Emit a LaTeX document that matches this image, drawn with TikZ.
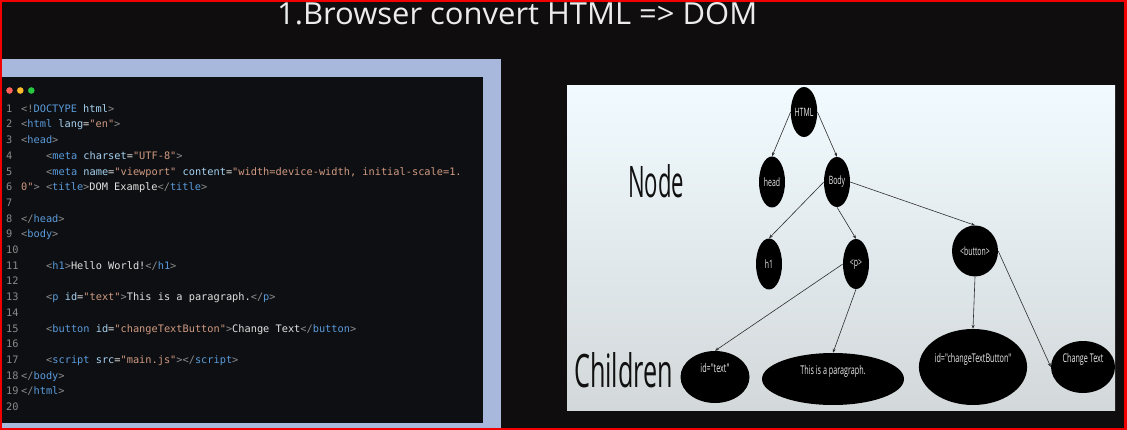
\documentclass[tikz,border=0pt]{standalone}
\usepackage{fontspec}
\usepackage{graphicx}
\usetikzlibrary{shapes.geometric,arrows.meta}

\newfontfamily\codefont{DejaVu Sans Mono}
\newfontfamily\domfont{Open Sans}[FakeStretch=0.6]
\newfontfamily\headfont{Open Sans}

\definecolor{pagebg}{HTML}{0F0D0D}
\definecolor{framered}{HTML}{F20000}
\definecolor{framebl}{HTML}{A8B8DC}
\definecolor{editorbg}{HTML}{0E0F12}
\definecolor{titlec}{HTML}{ECECEC}
\definecolor{cnum}{HTML}{8A8A8A}
\definecolor{cbr}{HTML}{8C8C8C}
\definecolor{ctag}{HTML}{5A9BDB}
\definecolor{catt}{HTML}{A6D2F2}
\definecolor{cstr}{HTML}{D09A82}
\definecolor{ctxt}{HTML}{E2E2E2}
\definecolor{dotr}{HTML}{FF6159}
\definecolor{doty}{HTML}{FDBB2E}
\definecolor{dotg}{HTML}{27C840}
\definecolor{panelt}{HTML}{F1FBFF}
\definecolor{panelm}{HTML}{EDF7FB}
\definecolor{panelb}{HTML}{D3D8DA}
\definecolor{edgec}{HTML}{2E2E2E}
\definecolor{labc}{HTML}{111111}

% syntax colouring helpers for the code listing
\newcommand\Br[1]{\textcolor{cbr}{#1}}
\newcommand\Tg[1]{\textcolor{ctag}{#1}}
\newcommand\At[1]{\textcolor{catt}{#1}}
\newcommand\St[1]{\textcolor{cstr}{#1}}
% lifts a label inside its ellipse without moving the ellipse
\newcommand\up[1]{\raisebox{6pt}[3pt][0pt]{#1}}

\begin{document}
\begin{tikzpicture}[x=1pt,y=-1pt,
  lnum/.style={anchor=base west, inner sep=0pt, text=cnum,
    font=\codefont\fontsize{10.3}{12}\selectfont},
  code/.style={anchor=base west, inner sep=0pt, text=ctxt,
    font=\codefont\fontsize{10.3}{12}\selectfont},
  dom/.style={ellipse, fill=black, text=titlec, inner sep=0pt,
    font=\domfont\fontsize{11.5}{13}\selectfont},
  leaf/.style={dom, font=\domfont\fontsize{12}{14}\selectfont},
  edge/.style={draw=edgec, line width=0.6pt,
    -{Stealth[length=4pt,width=3pt]}},
  biglabel/.style={anchor=base west, inner sep=0pt, text=labc, font=\headfont}]

\useasboundingbox (0,0) rectangle (1127,430);

% page frame and background
\fill[framered] (0,0) rectangle (1127,430);
\fill[pagebg] (2,2) rectangle (1124,428);

% heading
\node[anchor=base west, inner sep=0pt, text=titlec, font=\headfont] (title)
  at (277,25) {\resizebox{480pt}{22pt}{1.Browser convert HTML => DOM}};

% code editor window
\fill[framebl] (2,59) rectangle (501,428);
\fill[editorbg] (2,77) rectangle (483,423);
\fill[dotr] (9.5,90.5) circle (3.3pt);
\fill[doty] (20.3,90.5) circle (3.3pt);
\fill[dotg] (31.3,90.5) circle (3.3pt);

\foreach \i in {1,...,20}{
  \node[lnum] (n\i) at (6,{112.3+(\i-1)*15.7}) {\i};
}
\node[code] (c1) at (21,112.3) {\Br{<!}\Tg{DOCTYPE} \At{html}\Br{>}};
\node[code] (c2) at (21,128.0) {\Br{<}\Tg{html} \At{lang}=\St{"en"}\Br{>}};
\node[code] (c3) at (21,143.7) {\Br{<}\Tg{head}\Br{>}};
\node[code] (c4) at (46,159.4) {\Br{<}\Tg{meta} \At{charset}=\St{"UTF-8"}\Br{>}};
\node[code] (c5) at (46,175.1) {\Br{<}\Tg{meta} \At{name}=\St{"viewport"} \At{content}=\St{"width=device-width, initial-scale=1.}};
\node[code] (c6) at (21,190.8) {\St{0"}\Br{>} \Br{<}\Tg{title}\Br{>}DOM Example\Br{</}\Tg{title}\Br{>}};
\node[code] (c8) at (21,222.2) {\Br{</}\Tg{head}\Br{>}};
\node[code] (c9) at (21,237.9) {\Br{<}\Tg{body}\Br{>}};
\node[code] (c11) at (46,269.3) {\Br{<}\Tg{h1}\Br{>}Hello World!\Br{</}\Tg{h1}\Br{>}};
\node[code] (c13) at (46,300.7) {\Br{<}\Tg{p} \At{id}=\St{"text"}\Br{>}This is a paragraph.\Br{</}\Tg{p}\Br{>}};
\node[code] (c15) at (46,332.1) {\Br{<}\Tg{button} \At{id}=\St{"changeTextButton"}\Br{>}Change Text\Br{</}\Tg{button}\Br{>}};
\node[code] (c17) at (46,363.5) {\Br{<}\Tg{script} \At{src}=\St{"main.js"}\Br{>}\Br{</}\Tg{script}\Br{>}};
\node[code] (c18) at (21,379.2) {\Br{</}\Tg{body}\Br{>}};
\node[code] (c19) at (21,394.9) {\Br{</}\Tg{html}\Br{>}};

% DOM tree panel
\shade[top color=panelt, middle color=panelm, bottom color=panelb]
  (567,86) rectangle (1115,410);

\node[biglabel] (nodelbl) at (628,198) {\resizebox{56pt}{33pt}{Node}};
\node[biglabel] (childlbl) at (574,387) {\resizebox{99pt}{35pt}{Children}};

\node[dom, minimum width=26pt, minimum height=50pt] (html) at (804,112) {HTML};
\node[dom, minimum width=26pt, minimum height=51pt] (head) at (772,182) {head};
\node[dom, minimum width=26pt, minimum height=50pt] (body) at (837,182) {Body};
\node[dom, minimum width=26pt, minimum height=51pt] (h1) at (769,264) {h1};
\node[dom, minimum width=26pt, minimum height=50pt] (p) at (856,264) {<p>};
\node[dom, minimum width=46pt, minimum height=51pt] (button) at (975,251) {<button>};
\node[leaf, minimum width=69pt, minimum height=52pt] (idtext) at (715,377) {\up{id="text"}};
\node[leaf, minimum width=142pt, minimum height=52pt] (para) at (833,379) {\up{This is a paragraph.}};
\node[leaf, minimum width=102pt, minimum height=76pt] (ctb) at (973,367) {\up{id="changeTextButton"}};
\node[leaf, minimum width=64pt, minimum height=52pt] (ct) at (1083,367) {\up{Change Text}};

\draw[edge] (html.west) -- (head.north);
\draw[edge] (html.east) -- (body.north);
\draw[edge] (body.west) -- (h1.north);
\draw[edge] (body.south) -- (p.north);
\draw[edge] (body.east) -- (button.north);
\draw[edge] (p.west) -- (idtext.north);
\draw[edge] (p.south) -- (para.north);
\draw[edge] (button.south) -- (ctb.north);
\draw[edge] (button.east) -- (ct.west);
\end{tikzpicture}
\end{document}
